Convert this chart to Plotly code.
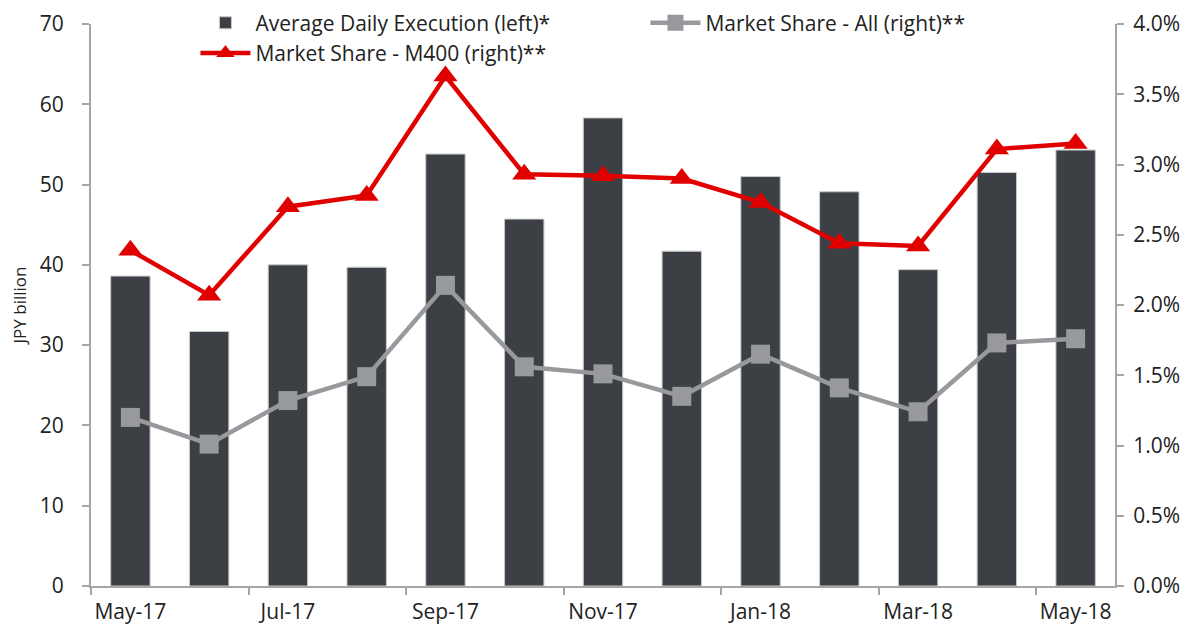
import plotly.graph_objects as go

months = ["May-17", "Jun-17", "Jul-17", "Aug-17", "Sep-17", "Oct-17", "Nov-17",
          "Dec-17", "Jan-18", "Feb-18", "Mar-18", "Apr-18", "May-18"]
avg_daily_exec = [38.6, 31.7, 40.0, 39.7, 53.8, 45.7, 58.3, 41.7, 51.0, 49.1, 39.4, 51.5, 54.3]
share_all = [1.20, 1.01, 1.32, 1.49, 2.14, 1.56, 1.51, 1.35, 1.65, 1.41, 1.24, 1.73, 1.76]
share_m400 = [2.39, 2.07, 2.70, 2.78, 3.63, 2.93, 2.92, 2.90, 2.73, 2.44, 2.42, 3.11, 3.15]

FONT = "Open Sans"
FS = 21
fig = go.Figure()
fig.add_trace(go.Bar(
    x=months, y=avg_daily_exec, name="Average Daily Execution (left)*",
    marker=dict(color="#3c3f44", line=dict(width=1, color="#c8c9cb")), yaxis="y"))
fig.add_trace(go.Scatter(
    x=months, y=share_all, name="Market Share - All (right)**", yaxis="y2",
    mode="lines+markers", line=dict(color="#97999c", width=4.5),
    marker=dict(symbol="square", size=19, color="#97999c")))
fig.add_trace(go.Scatter(
    x=months, y=share_m400, name="Market Share - M400 (right)**", yaxis="y2",
    mode="lines+markers", line=dict(color="#e00000", width=4.5),
    marker=dict(symbol="triangle-up", size=21, color="#e00000")))

fig.update_layout(
    width=1188, height=630,
    margin=dict(l=83, r=81, t=16, b=52, autoexpand=False),
    paper_bgcolor="white", plot_bgcolor="white",
    font=dict(family=FONT, size=FS, color="#222222"),
    bargap=0.5,
    showlegend=True,
    legend=dict(orientation="h", x=0.102, y=1.038, xanchor="left", yanchor="top",
                entrywidth=385, entrywidthmode="pixels", traceorder="normal",
                bgcolor="rgba(0,0,0,0)", font=dict(size=FS, family=FONT),
                itemwidth=50, tracegroupgap=0),
    xaxis=dict(type="category", showgrid=False, showline=True, linecolor="#a6a6a6",
               linewidth=2, ticks="outside", tickson="boundaries", ticklen=7,
               tickcolor="#a6a6a6", tickwidth=2, dtick=2, tickfont=dict(size=FS),
               range=[-0.5, 12.5], automargin=False, ticklabelstandoff=6,
               ticklabeloverflow="allow"),
    yaxis=dict(range=[0, 70], dtick=10, showgrid=False, showline=True,
               linecolor="#a6a6a6", linewidth=2, ticks="outside", ticklen=7,
               tickcolor="#a6a6a6", tickwidth=2, zeroline=False, automargin=False,
               title=dict(text="JPY billion", font=dict(size=17), standoff=12),
               tickfont=dict(size=FS), ticklabelstandoff=14,
               ticklabeloverflow="allow"),
    yaxis2=dict(range=[0, 4.0], dtick=0.5, overlaying="y", side="right",
                showgrid=False, showline=True, linecolor="#a6a6a6", linewidth=2,
                ticks="outside", ticklen=7, tickcolor="#a6a6a6", tickwidth=2,
                ticksuffix="%", tickformat=".1f", zeroline=False, automargin=False,
                tickfont=dict(size=FS), ticklabelstandoff=5,
                ticklabeloverflow="allow"),
)

fig.write_html("out.html")
